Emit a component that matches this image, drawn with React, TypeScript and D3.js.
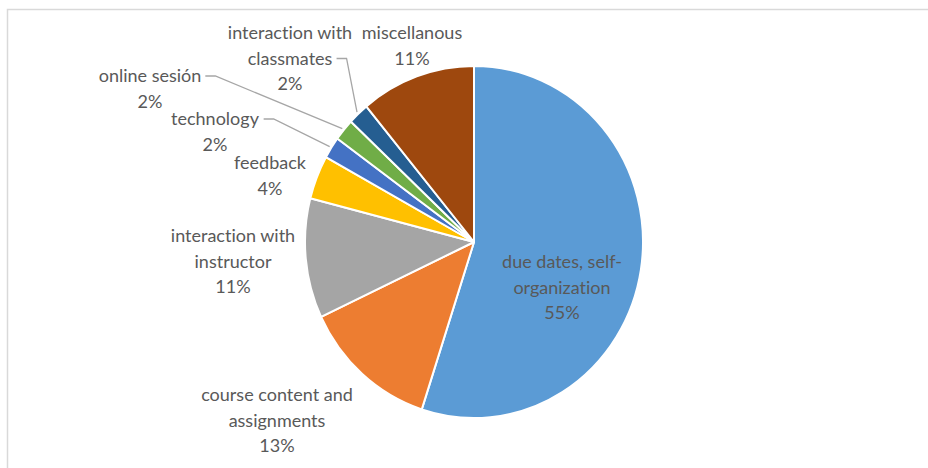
import * as d3 from 'd3';
import React, { useRef, useEffect } from 'react';

const categories = [
  'due dates, self-organization',
  'course content and assignments',
  'interaction with instructor',
  'feedback',
  'technology',
  'online sesión',
  'interaction with classmates',
  'miscellanous',
];
const shares = [55, 13, 11, 4, 2, 2, 2, 11];
const labelLines = [
  ['due dates, self-', 'organization'],
  ['course content and', 'assignments'],
  ['interaction with', 'instructor'],
  ['feedback'],
  ['technology'],
  ['online sesión'],
  ['interaction with', 'classmates'],
  ['miscellanous'],
];
const colors = ['#5B9BD5', '#ED7D31', '#A5A5A5', '#FFC000', '#4472C4', '#70AD47', '#255E91', '#9E480E'];

// label centre (first line baseline) per slice, Excel best-fit spots
const labelSpot = [
  [562, 268], [277, 401], [233, 242], [270, 169], [215, 125], [150, 82], [290, 39], [412, 39],
];
const hasLeader = [false, false, false, false, true, true, true, false];

const W = 928, H = 468;
const cx = 474, cy = 242, R = 176, sx = 169 / 176;
const lineH = 25.5;

export default function App() {
  const ref = useRef<SVGSVGElement>(null);

  useEffect(() => {
    const svg = d3.select(ref.current);
    svg.selectAll('*').remove();

    svg.append('rect').attr('width', W).attr('height', H).attr('fill', '#fff');
    // chart area border (only top/left visible)
    svg.append('path')
      .attr('d', `M7.5,${H} V9.5 H${W}`)
      .attr('fill', 'none')
      .attr('stroke', '#d9d9d9')
      .attr('stroke-width', 1.5);

    const pie = d3.pie<number>().sort(null).value(d => d);
    const arcs = pie(shares);
    const arc = d3.arc<d3.PieArcDatum<number>>().innerRadius(0).outerRadius(R);

    const g = svg.append('g').attr('transform', `translate(${cx},${cy}) scale(${sx},1)`);
    g.selectAll('path')
      .data(arcs)
      .enter()
      .append('path')
      .attr('d', arc)
      .attr('fill', (d, i) => colors[i])
      .attr('stroke', '#fff')
      .attr('stroke-width', 2)
      .attr('vector-effect', 'non-scaling-stroke')
      .attr('stroke-linejoin', 'round');

    const labels = svg.append('g')
      .attr('font-family', 'Lato, "Open Sans", sans-serif')
      .attr('font-size', 18)
      .attr('fill', '#595959')
      .attr('text-anchor', 'middle')
      .style('font-variant-ligatures', 'none');

    arcs.forEach((a, i) => {
      const [x, y] = labelSpot[i];
      const lines = [...labelLines[i], `${shares[i]}%`];
      const t = labels.append('text').attr('x', x).attr('y', y);
      lines.forEach((l, j) => {
        t.append('tspan').attr('x', x).attr('y', y + j * lineH).text(l);
      });

      if (hasLeader[i]) {
        // leader from right of the last name line to the slice edge
        const nameIdx = labelLines[i].length - 1;
        const tspan = t.selectAll<SVGTSpanElement, unknown>('tspan').nodes()[nameIdx];
        const bb = tspan.getBBox();
        const x0 = bb.x + bb.width + 4;
        const y0 = y + nameIdx * lineH - 6;
        const mid = (a.startAngle + a.endAngle) / 2;
        const ex = cx + Math.sin(mid) * (R + 2) * sx;
        const ey = cy - Math.cos(mid) * (R + 2);
        svg.append('path')
          .attr('d', `M${x0},${y0} H${x0 + 10} L${ex},${ey}`)
          .attr('fill', 'none')
          .attr('stroke', '#a6a6a6')
          .attr('stroke-width', 1.3);
      }
    });
  }, []);

  return (
    <svg ref={ref} width={W} height={H} style={{ position: 'absolute', left: 0, top: 0 }} />
  );
}
